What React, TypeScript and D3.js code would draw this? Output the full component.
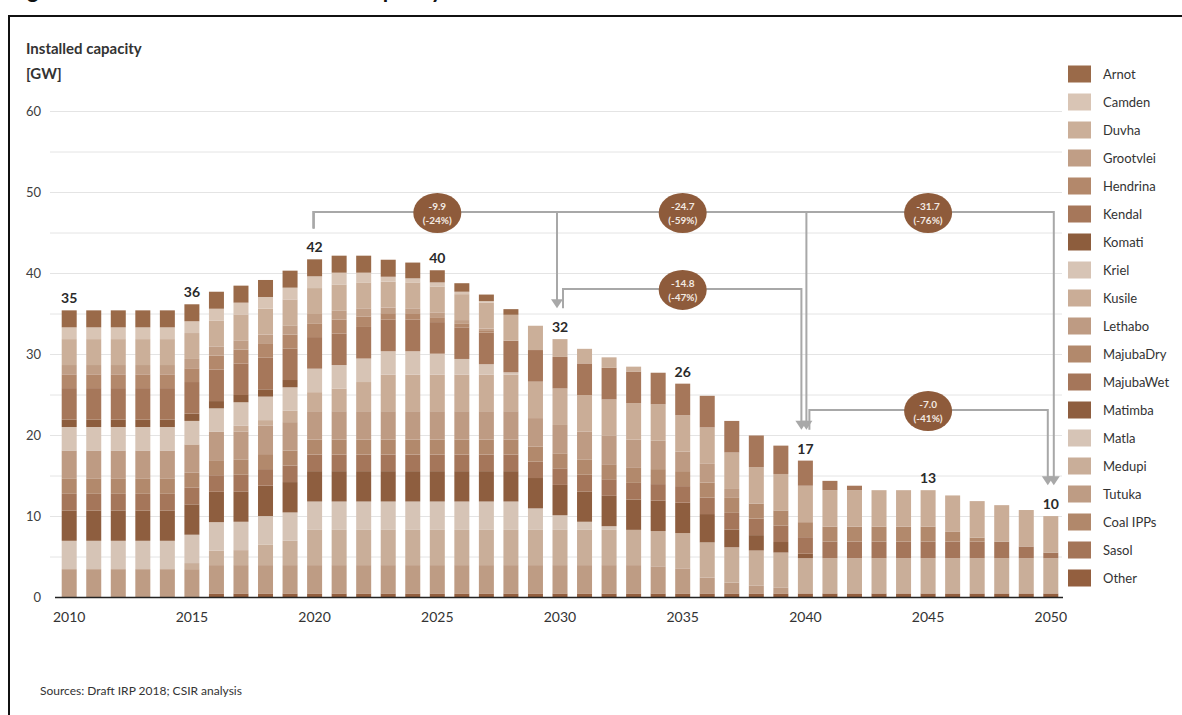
import React from 'react';
import * as d3 from 'd3';

// ---------- DATA (GW) ----------
const years = [
  2010, 2011, 2012, 2013, 2014, 2015, 2016, 2017, 2018, 2019,
  2020, 2021, 2022, 2023, 2024, 2025, 2026, 2027, 2028, 2029,
  2030, 2031, 2032, 2033, 2034, 2035, 2036, 2037, 2038, 2039,
  2040, 2041, 2042, 2043, 2044, 2045, 2046, 2047, 2048, 2049, 2050,
];

const Arnot = [
  2.1, 2.1, 2.1, 2.1, 2.1, 2.1, 2.1, 2.1, 2.1, 2.1,
  2.1, 2.1, 2.1, 2.1, 1.95, 1.5, 1.05, 0.8, 0.7, 0,
  0, 0, 0, 0, 0, 0, 0, 0, 0, 0,
  0, 0, 0, 0, 0, 0, 0, 0, 0, 0, 0,
];
const Camden = [
  1.45, 1.45, 1.45, 1.45, 1.45, 1.45, 1.45, 1.45, 1.45, 1.45,
  1.45, 1.45, 1.2, 0.6, 0.5, 0.5, 0.3, 0.2, 0, 0,
  0, 0, 0, 0, 0, 0, 0, 0, 0, 0,
  0, 0, 0, 0, 0, 0, 0, 0, 0, 0, 0,
];
const Duvha = [
  3.2, 3.2, 3.2, 3.2, 3.2, 3.2, 3.2, 3.2, 3.2, 3.2,
  3.2, 3.2, 3.2, 3.2, 3.2, 3.2, 3.2, 3.2, 3.2, 3.0,
  2.2, 1.8, 1.3, 0.6, 0, 0, 0, 0, 0, 0,
  0, 0, 0, 0, 0, 0, 0, 0, 0, 0, 0,
];
const Grootvlei = [
  1.15, 1.15, 1.15, 1.15, 1.15, 1.15, 1.15, 1.15, 1.15, 1.15,
  1.15, 1.15, 1.0, 0.7, 0.7, 0.6, 0.4, 0.2, 0, 0,
  0, 0, 0, 0, 0, 0, 0, 0, 0, 0,
  0, 0, 0, 0, 0, 0, 0, 0, 0, 0, 0,
];
const Hendrina = [
  1.7, 1.7, 1.7, 1.7, 1.7, 1.7, 1.7, 1.7, 1.7, 1.7,
  1.7, 1.7, 1.3, 0.8, 0.7, 0.6, 0.5, 0.3, 0, 0,
  0, 0, 0, 0, 0, 0, 0, 0, 0, 0,
  0, 0, 0, 0, 0, 0, 0, 0, 0, 0, 0,
];
const Kendal = [
  3.9, 3.9, 3.9, 3.9, 3.9, 3.9, 3.9, 3.9, 3.9, 3.9,
  3.9, 3.9, 3.9, 3.9, 3.9, 3.9, 3.9, 3.9, 3.9, 3.9,
  3.9, 3.9, 3.9, 3.9, 3.9, 3.9, 3.9, 3.9, 3.9, 3.5,
  3.1, 1.15, 0.55, 0, 0, 0, 0, 0, 0, 0, 0,
];
const Komati = [
  0.9, 0.9, 0.9, 0.9, 0.9, 0.9, 0.9, 0.9, 0.9, 0.9,
  0, 0, 0, 0, 0, 0, 0, 0, 0, 0,
  0, 0, 0, 0, 0, 0, 0, 0, 0, 0,
  0, 0, 0, 0, 0, 0, 0, 0, 0, 0, 0,
];
const Kriel = [
  2.9, 2.9, 2.9, 2.9, 2.9, 2.9, 2.9, 2.9, 2.9, 2.9,
  2.9, 2.9, 2.9, 2.9, 2.9, 2.6, 1.95, 1.3, 0.3, 0,
  0, 0, 0, 0, 0, 0, 0, 0, 0, 0,
  0, 0, 0, 0, 0, 0, 0, 0, 0, 0, 0,
];
const Kusile = [
  0, 0, 0, 0, 0, 0, 0, 0.7, 0.7, 1.4,
  2.35, 2.8, 3.6, 4.5, 4.5, 4.5, 4.5, 4.5, 4.5, 4.5,
  4.5, 4.5, 4.5, 4.5, 4.5, 4.5, 4.5, 4.5, 4.5, 4.5,
  4.5, 4.5, 4.5, 4.5, 4.5, 4.5, 4.5, 4.5, 4.5, 4.5, 4.5,
];
const Lethabo = [
  3.5, 3.5, 3.5, 3.5, 3.5, 3.5, 3.5, 3.5, 3.5, 3.5,
  3.5, 3.5, 3.5, 3.5, 3.5, 3.5, 3.5, 3.5, 3.5, 3.5,
  3.5, 3.5, 3.5, 3.5, 3.5, 2.4, 2.3, 1.1, 0, 0,
  0, 0, 0, 0, 0, 0, 0, 0, 0, 0, 0,
];
const MajubaDry = [
  1.85, 1.85, 1.85, 1.85, 1.85, 1.85, 1.85, 1.85, 1.85, 1.85,
  1.85, 1.85, 1.85, 1.85, 1.85, 1.85, 1.85, 1.85, 1.85, 1.85,
  1.85, 1.85, 1.85, 1.85, 1.85, 1.85, 1.85, 1.85, 1.85, 1.85,
  1.85, 1.85, 1.85, 1.85, 1.85, 1.85, 1.2, 0.5, 0, 0, 0,
];
const MajubaWet = [
  2.05, 2.05, 2.05, 2.05, 2.05, 2.05, 2.05, 2.05, 2.05, 2.05,
  2.05, 2.05, 2.05, 2.05, 2.05, 2.05, 2.05, 2.05, 2.05, 2.05,
  2.05, 2.05, 2.05, 2.05, 2.05, 2.05, 2.05, 2.05, 2.05, 2.05,
  2.05, 2.05, 2.05, 2.05, 2.05, 2.05, 2.05, 2.05, 2.05, 1.45, 0.7,
];
const Matimba = [
  3.75, 3.75, 3.75, 3.75, 3.75, 3.75, 3.75, 3.75, 3.75, 3.75,
  3.75, 3.75, 3.75, 3.75, 3.75, 3.75, 3.75, 3.75, 3.75, 3.75,
  3.75, 3.75, 3.75, 3.75, 3.75, 3.75, 3.5, 2.2, 1.9, 1.3,
  0.55, 0, 0, 0, 0, 0, 0, 0, 0, 0, 0,
];
const Matla = [
  3.5, 3.5, 3.5, 3.5, 3.5, 3.5, 3.5, 3.5, 3.5, 3.5,
  3.5, 3.5, 3.5, 3.5, 3.5, 3.5, 3.5, 3.5, 3.5, 2.65,
  1.8, 1.0, 0.45, 0, 0, 0, 0, 0, 0, 0,
  0, 0, 0, 0, 0, 0, 0, 0, 0, 0, 0,
];
const Medupi = [
  0, 0, 0, 0, 0, 0.75, 1.8, 1.85, 2.55, 3.0,
  4.35, 4.35, 4.35, 4.35, 4.35, 4.35, 4.35, 4.35, 4.35, 4.35,
  4.35, 4.35, 4.35, 4.35, 4.35, 4.35, 4.35, 4.35, 4.35, 4.35,
  4.35, 4.35, 4.35, 4.35, 4.35, 4.35, 4.35, 4.35, 4.35, 4.35, 4.35,
];
const Tutuka = [
  3.5, 3.5, 3.5, 3.5, 3.5, 3.5, 3.5, 3.5, 3.5, 3.5,
  3.5, 3.5, 3.5, 3.5, 3.5, 3.5, 3.5, 3.5, 3.5, 3.5,
  3.5, 3.5, 3.5, 3.5, 3.35, 3.1, 1.95, 1.35, 0.95, 0.7,
  0, 0, 0, 0, 0, 0, 0, 0, 0, 0, 0,
];
const CoalIPPs = [
  0, 0, 0, 0, 0, 0, 0, 0, 0, 0,
  0, 0, 0, 0, 0, 0, 0, 0, 0, 0,
  0, 0, 0, 0, 0, 0, 0, 0, 0, 0,
  0, 0, 0, 0, 0, 0, 0, 0, 0, 0, 0,
];
const Sasol = [
  0, 0, 0, 0, 0, 0, 0, 0, 0, 0,
  0, 0, 0, 0, 0, 0, 0, 0, 0, 0,
  0, 0, 0, 0, 0, 0, 0, 0, 0, 0,
  0, 0, 0, 0, 0, 0, 0, 0, 0, 0, 0,
];
const Other = [
  0, 0, 0, 0, 0, 0, 0.5, 0.5, 0.5, 0.5,
  0.5, 0.5, 0.5, 0.5, 0.5, 0.5, 0.5, 0.5, 0.5, 0.5,
  0.5, 0.5, 0.5, 0.5, 0.5, 0.5, 0.5, 0.5, 0.5, 0.5,
  0.5, 0.5, 0.5, 0.5, 0.5, 0.5, 0.5, 0.5, 0.5, 0.5, 0.5,
];

// legend order (top to bottom) = stack order top to bottom
const seriesNames = [
  'Arnot', 'Camden', 'Duvha', 'Grootvlei', 'Hendrina', 'Kendal', 'Komati',
  'Kriel', 'Kusile', 'Lethabo', 'MajubaDry', 'MajubaWet', 'Matimba',
  'Matla', 'Medupi', 'Tutuka', 'Coal IPPs', 'Sasol', 'Other',
];
const seriesValues = [
  Arnot, Camden, Duvha, Grootvlei, Hendrina, Kendal, Komati,
  Kriel, Kusile, Lethabo, MajubaDry, MajubaWet, Matimba,
  Matla, Medupi, Tutuka, CoalIPPs, Sasol, Other,
];
const seriesColors = [
  '#9A6A49', '#D9C5B5', '#CBAF99', '#C09E86', '#B3886B', '#A6775A', '#8D5D3D',
  '#D7C4B5', '#CAAD97', '#BE9B83', '#B2896C', '#A5765A', '#8E5E3F',
  '#D6C4B6', '#C9AE99', '#BE9C84', '#B1886B', '#A47558', '#935F3F',
];

const labelYears = [2010, 2015, 2020, 2025, 2030, 2035, 2040, 2045, 2050];
const xTickYears = [2010, 2015, 2020, 2025, 2030, 2035, 2040, 2045, 2050];
const yTickValues = [0, 10, 20, 30, 40, 50, 60];
const gridValues = [5, 10, 15, 20, 25, 30, 35, 40, 45, 50, 55, 60];

const changeFrom = [2020, 2020, 2020, 2030, 2040];
const changeTo = [2030, 2040, 2050, 2040, 2050];
const changeDelta = ['-9.9', '-24.7', '-31.7', '-14.8', '-7.0'];
const changePct = ['(-24%)', '(-59%)', '(-76%)', '(-47%)', '(-41%)'];
const changeRow = [0, 0, 0, 1, 2];

// ---------- LAYOUT ----------
const W = 1182;
const H = 715;
const FONT = 'Lato, "Open Sans", sans-serif';
const rowLevels = [47.6, 38.1, 23.15]; // GW height of bracket rows
const gapAbove = 3.8; // GW between bar total and bracket end

export default function App() {
  const x = d3.scaleLinear().domain([2010, 2050]).range([69.2, 1050.8]);
  const y = d3.scaleLinear().domain([0, 60]).range([597.5, 111.5]);
  const barW = 15;

  const table = years.map((yr, i) => {
    const row: Record<string, number> = { year: yr };
    seriesNames.forEach((n, k) => (row[n] = seriesValues[k][i]));
    return row;
  });
  const stackKeys = [...seriesNames].reverse(); // bottom -> top
  const stacked = d3.stack<Record<string, number>>().keys(stackKeys)(table);
  const totals = years.map((_, i) => d3.sum(seriesValues, (s) => s[i]));
  const totalOf = (yr: number) => totals[years.indexOf(yr)];
  const colorOf = (name: string) => seriesColors[seriesNames.indexOf(name)];

  const startOff = (row: number) => (row === 0 ? -1 : row === 1 ? 3 : 4);
  const endOff = (row: number, to: number) => {
    if (row === 0) return to === 2030 ? -3 : to === 2040 ? 1 : 3;
    return row === 1 ? -4 : -3;
  };
  const lineColor = '#A8A8A8';

  return (
    <svg width={W} height={H} style={{ position: 'absolute', left: 0, top: 0, background: '#fff' }} fontFamily={FONT}>
      {/* figure title, cut off by the top edge as in the source */}
      <text x={9} y={-2} fontSize={22} fontWeight={700} fill="#111">Figure 1: Installed coal fleet</text>
      <text x={361} y={-2} fontSize={22} fontWeight={700} fill="#111">capacity</text>
      {/* frame */}
      <rect x={9} y={16} width={W + 20} height={H + 20} fill="none" stroke="#111" strokeWidth={2} />

      {/* axis title */}
      <text x={26} y={54} fontSize={15} fontWeight={700} fill="#333">Installed capacity</text>
      <text x={26} y={79} fontSize={15} fontWeight={700} fill="#333">[GW]</text>

      {/* grid */}
      {gridValues.map((v) => (
        <line key={'g' + v} x1={50} x2={1062} y1={y(v)} y2={y(v)} stroke="#E4E4E4" strokeWidth={1} />
      ))}
      {yTickValues.map((v) => (
        <text key={'yt' + v} x={41} y={y(v)} dy="0.35em" textAnchor="end" fontSize={13} fill="#404040">{v}</text>
      ))}

      {/* bars */}
      {stacked.map((layer) => (
        <g key={layer.key} fill={colorOf(layer.key)}>
          {layer.map((d, i) =>
            d[1] - d[0] > 0 ? (
              <rect key={i} x={x(years[i]) - barW / 2} y={y(d[1])} width={barW} height={y(d[0]) - y(d[1])} />
            ) : null
          )}
        </g>
      ))}

      {/* x axis */}
      <line x1={55} x2={1063} y1={y(0)} y2={y(0)} stroke="#222" strokeWidth={1.5} />
      {xTickYears.map((yr) => (
        <text key={'xt' + yr} x={x(yr)} y={622} textAnchor="middle" fontSize={14} fill="#333">{yr}</text>
      ))}

      {/* totals */}
      {labelYears.map((yr) => (
        <text key={'tl' + yr} x={x(yr)} y={y(totalOf(yr)) - 7} textAnchor="middle" fontSize={14} fontWeight={700} fill="#2a2a2a">
          {Math.round(totalOf(yr))}
        </text>
      ))}

      {/* change brackets */}
      {changeFrom.map((from, i) => {
        const to = changeTo[i];
        const row = changeRow[i];
        const x0 = x(from) + startOff(row);
        const x1 = x(to) + endOff(row, to);
        const yl = y(rowLevels[row]);
        const y0 = y(totalOf(from) + gapAbove);
        const y1 = y(totalOf(to) + gapAbove);
        return (
          <g key={'br' + i}>
            <path d={`M${x0},${y0}V${yl}H${x1}V${y1 - 8}`} fill="none" stroke={lineColor} strokeWidth={2} />
            <path d={`M${x1 - 6},${y1 - 9}L${x1 + 6},${y1 - 9}L${x1},${y1}Z`} fill={lineColor} />
          </g>
        );
      })}
      {changeFrom.map((from, i) => {
        const cx = x(changeTo[i] - 5);
        const cy = y(rowLevels[changeRow[i]]) + 1;
        return (
          <g key={'bc' + i}>
            <ellipse cx={cx} cy={cy} rx={24} ry={20} fill="#8E5B3B" />
            <text x={cx} y={cy - 3} textAnchor="middle" fontSize={10} fontWeight={700} fill="#F3EAE2">{changeDelta[i]}</text>
            <text x={cx} y={cy + 11} textAnchor="middle" fontSize={10} fontWeight={700} fill="#F3EAE2">{changePct[i]}</text>
          </g>
        );
      })}

      {/* legend */}
      {seriesNames.map((n, k) => {
        const cy = 74 + k * 28;
        return (
          <g key={'lg' + n}>
            <rect x={1068} y={cy - 8.5} width={23} height={17} fill={seriesColors[k]} />
            <text x={1103} y={cy} dy="0.35em" fontSize={13} fill="#333">{n}</text>
          </g>
        );
      })}

      {/* source */}
      <text x={40} y={695} fontSize={12} fill="#333">Sources: Draft IRP 2018; CSIR analysis</text>
    </svg>
  );
}
